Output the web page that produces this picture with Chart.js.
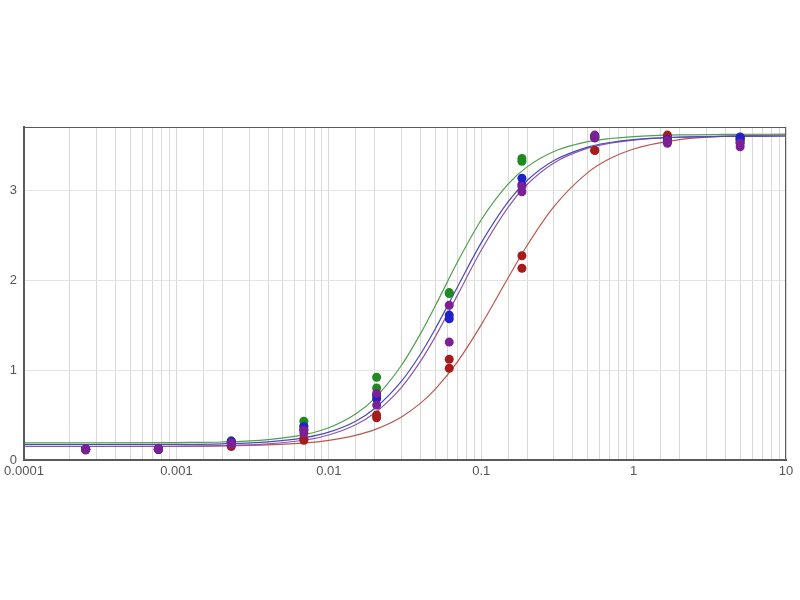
<!DOCTYPE html>
<html>
<head>
<meta charset="utf-8">
<script src="https://cdn.jsdelivr.net/npm/chart.js@4"></script>
<style>
  body { margin: 0; background: #fff; }
  canvas { display: block; }
</style>
</head>
<body>
<canvas id="myChart" width="800" height="600"></canvas>
<script>
// concentrations of the dilution series (x) and two replicate readings each
const conc = [0.000254, 0.000762, 0.00229, 0.00686, 0.0206, 0.0617, 0.185, 0.556, 1.667, 5];

const greenRep1  = [0.12, 0.12, 0.21, 0.43, 0.92, 1.86, 3.35, 3.60, 3.57, 3.55];
const greenRep2  = [0.12, 0.12, 0.19, 0.38, 0.80, 1.85, 3.32, 3.58, 3.55, 3.53];
const blueRep1   = [0.12, 0.12, 0.21, 0.37, 0.72, 1.61, 3.13, 3.60, 3.56, 3.59];
const blueRep2   = [0.12, 0.12, 0.20, 0.34, 0.68, 1.57, 3.06, 3.58, 3.54, 3.56];
const purpleRep1 = [0.12, 0.13, 0.19, 0.33, 0.74, 1.72, 3.04, 3.61, 3.55, 3.52];
const purpleRep2 = [0.11, 0.12, 0.17, 0.30, 0.61, 1.31, 2.98, 3.58, 3.52, 3.48];
const redRep1    = [0.12, 0.12, 0.16, 0.24, 0.50, 1.12, 2.27, 3.44, 3.61, 3.58];
const redRep2    = [0.12, 0.12, 0.15, 0.22, 0.47, 1.02, 2.13, 3.44, 3.59, 3.57];

// fitted curves at these x positions
const curveX      = [0.0001, 0.0003, 0.001, 0.002, 0.004, 0.007, 0.01, 0.015, 0.02, 0.03, 0.04, 0.05, 0.07, 0.1, 0.15, 0.2, 0.3, 0.5, 0.7, 1, 2, 4, 10];
const greenCurve  = [0.19, 0.19, 0.194, 0.20, 0.227, 0.284, 0.359, 0.511, 0.685, 1.053, 1.404, 1.714, 2.203, 2.667, 3.065, 3.257, 3.428, 3.537, 3.572, 3.594, 3.612, 3.617, 3.62];
const blueCurve   = [0.17, 0.17, 0.173, 0.18, 0.202, 0.249, 0.309, 0.431, 0.572, 0.876, 1.178, 1.459, 1.926, 2.412, 2.868, 3.105, 3.327, 3.477, 3.528, 3.56, 3.587, 3.595, 3.60];
const purpleCurve = [0.15, 0.15, 0.153, 0.159, 0.179, 0.222, 0.278, 0.391, 0.522, 0.808, 1.098, 1.371, 1.835, 2.33, 2.808, 3.061, 3.301, 3.465, 3.52, 3.555, 3.586, 3.596, 3.60];
const redCurve    = [0.15, 0.15, 0.152, 0.156, 0.168, 0.19, 0.219, 0.274, 0.337, 0.479, 0.632, 0.788, 1.093, 1.501, 2.022, 2.383, 2.815, 3.193, 3.349, 3.456, 3.56, 3.598, 3.614];

const xTickLabels = ['0.0001', '0.001', '0.01', '0.1', '1', '10'];
const yTicks = [0, 1, 2, 3];

function pts(xs, ys) {
  return xs.map((x, i) => ({ x: x, y: ys[i] }));
}

function dots(rep1, rep2, color, order) {
  return {
    data: pts(conc, rep1).concat(pts(conc, rep2)),
    showLine: false,
    pointRadius: 4.5,
    pointBackgroundColor: color,
    pointBorderColor: color,
    pointBorderWidth: 0,
    order: order
  };
}

function curve(ys, color) {
  return {
    data: pts(curveX, ys),
    showLine: true,
    pointRadius: 0,
    borderColor: color,
    borderWidth: 1.2,
    cubicInterpolationMode: 'monotone',
    fill: false,
    order: 10
  };
}

const frame = {
  id: 'frame',
  afterDraw(chart) {
    const a = chart.chartArea, ctx = chart.ctx;
    ctx.save();
    ctx.strokeStyle = '#5a5a5a';
    ctx.lineWidth = 1;
    ctx.strokeRect(a.left + 0.5, a.top + 0.5, a.right - a.left - 1, a.bottom - a.top - 1);
    ctx.restore();
  }
};

const tickFont = { family: 'Liberation Sans, Arial, sans-serif', size: 13 };

new Chart(document.getElementById('myChart'), {
  type: 'scatter',
  data: {
    datasets: [
      curve(greenCurve, '#4f9f4f'),
      curve(blueCurve, '#4a4ac0'),
      curve(purpleCurve, '#9058a6'),
      curve(redCurve, '#b9574f'),
      dots(greenRep1, greenRep2, '#1f8a1f', 4),
      dots(redRep1, redRep2, '#a61c1c', 3),
      dots(blueRep1, blueRep2, '#2020cc', 2),
      dots(purpleRep1, purpleRep2, '#7a2196', 1)
    ]
  },
  options: {
    responsive: false,
    animation: false,
    devicePixelRatio: 1,
    layout: { padding: { top: 127, right: 14, left: 0, bottom: 0 } },
    plugins: {
      legend: { display: false },
      tooltip: { enabled: false }
    },
    scales: {
      x: {
        type: 'logarithmic',
        min: 0.0001,
        max: 10,
        grid: { color: '#d9d9d9', drawTicks: false },
        border: { color: '#5a5a5a', width: 2 },
        ticks: {
          autoSkip: false,
          maxRotation: 0,
          padding: 4,
          color: '#555',
          font: tickFont,
          callback: function (value) {
            const e = Math.log10(value);
            if (Math.abs(e - Math.round(e)) < 1e-9) {
              return xTickLabels[Math.round(e) + 4];
            }
            return '';
          }
        },
        afterFit: function (s) { s.height = 140; }
      },
      y: {
        min: 0,
        max: 3.7,
        grid: { color: '#e3e3e3', drawTicks: false },
        border: { color: '#5a5a5a', width: 2 },
        ticks: {
          padding: 7,
          color: '#555',
          font: tickFont
        },
        afterBuildTicks: function (s) { s.ticks = yTicks.map(v => ({ value: v })); },
        afterFit: function (s) { s.width = 24; }
      }
    }
  },
  plugins: [frame]
});
</script>
</body>
</html>
